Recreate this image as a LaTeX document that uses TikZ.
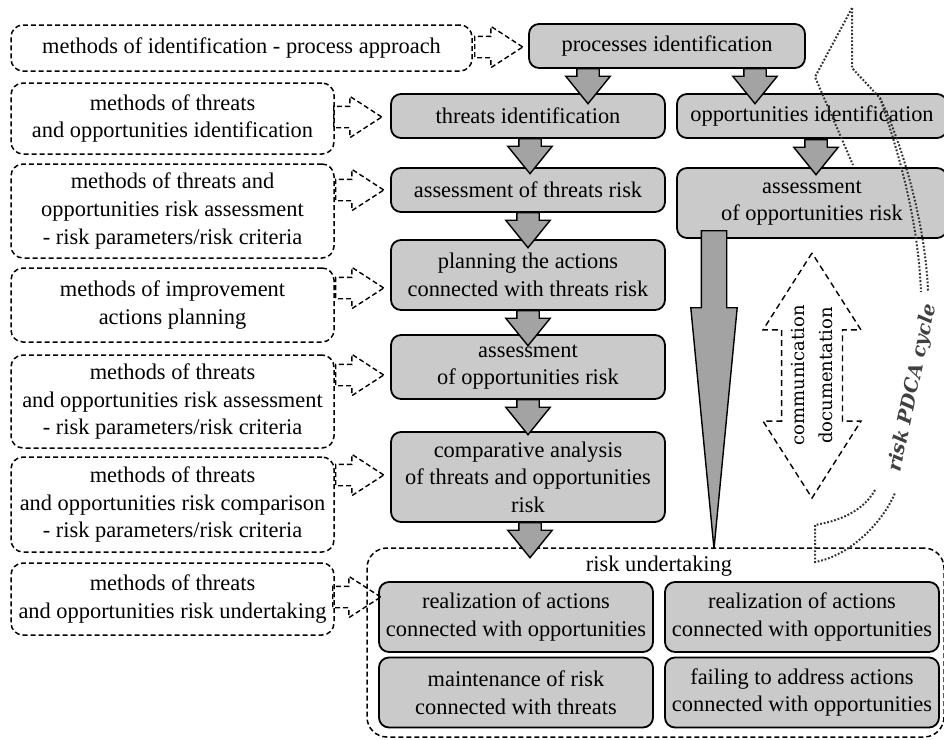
\documentclass[tikz,border=0pt]{standalone}
\usepackage{fontspec}
\setmainfont{Liberation Serif}
\newfontfamily\djserif{DejaVu Serif}
\usetikzlibrary{shapes.arrows}
\definecolor{boxgray}{RGB}{202,202,202}
\definecolor{arrgray}{RGB}{163,163,163}
\tikzstyle{stage} = [draw, line width=0.9pt, fill=boxgray, rounded corners=5pt, align=center, inner sep=2pt, minimum width=137pt, font=\fontsize{11.2}{13.8}\selectfont]
\tikzstyle{method} = [draw, line width=0.75pt, dash pattern=on 2.5pt off 1.5pt, rounded corners=6pt, align=center, inner sep=2pt, minimum width=161.5pt, font=\fontsize{11.2}{13.8}\selectfont]
\tikzstyle{flow} = [single arrow, draw, line width=0.7pt, fill=arrgray, inner xsep=0pt, inner ysep=5.25pt, minimum height=17.5pt, minimum width=21.5pt, single arrow head extend=5.5pt, single arrow tip angle=78, rotate=-90, anchor=tail]
\tikzstyle{link} = [single arrow, draw, line width=0.7pt, dash pattern=on 2.5pt off 1.5pt, inner xsep=0pt, inner ysep=5pt, minimum height=24pt, minimum width=20pt, single arrow head extend=5pt, single arrow tip angle=66, anchor=tip]
\tikzstyle{pdca} = [line width=1pt, dash pattern=on 0.9pt off 0.9pt, black!80]

\begin{document}
\begin{tikzpicture}[x=0.5pt,y=-0.5pt]
\useasboundingbox (0,0) rectangle (944,740);
\node[method, minimum width=230.5pt, minimum height=23pt] (m1) at (241.5,48) {methods of identification - process approach};
\node[method, minimum height=35.5pt] (m2) at (172.5,118.5) {methods of threats\\and opportunities identification};
\node[method, minimum height=47pt] (m3) at (172.5,211) {methods of threats and\\opportunities risk assessment\\- risk parameters/risk criteria};
\node[method, minimum height=37pt] (m4) at (172.5,305) {methods of improvement\\actions planning};
\node[method, minimum height=46.5pt] (m5) at (172.5,401.5) {methods of threats\\and opportunities risk assessment\\- risk parameters/risk criteria};
\node[method, minimum height=47.5pt] (m6) at (172.5,504.5) {methods of threats\\and opportunities risk comparison\\- risk parameters/risk criteria};
\node[method, minimum height=36pt] (m7) at (172.5,599) {methods of threats\\and opportunities risk undertaking};

\node[stage, minimum width=138pt, minimum height=22pt] (proc) at (667,46) {processes identification};
\node[stage, minimum height=22pt] (thrid) at (528,116) {threats identification};
\node[stage, minimum width=135pt, minimum height=22pt] (oppid) at (812,116) {opportunities identification};
\node[stage, minimum height=22pt] (thras) at (528,190) {assessment of threats risk};
\node[stage, minimum width=135pt, minimum height=35pt] (oppas) at (812,203) {assessment\\of opportunities risk};
\node[stage, minimum height=35pt] (plan) at (528,275) {planning the actions\\connected with threats risk};
\node[stage, minimum height=32pt] (midas) at (528,367) {assessment\\of opportunities risk};
\node[stage, minimum height=45pt] (comp) at (528,477) {comparative analysis\\of threats and opportunities\\risk};

\node[draw, line width=0.75pt, dash pattern=on 2.5pt off 1.5pt, rounded corners=10pt, minimum width=288.5pt, minimum height=94.5pt] (ru) at (655.5,642.5) {};
\node[font=\fontsize{11.2}{13.8}\selectfont] (rulbl) at (659,566) {risk undertaking};
\node[stage, minimum height=35pt] (ru1) at (516,617) {realization of actions\\connected with opportunities};
\node[stage, minimum height=35pt] (ru2) at (802,617) {realization of actions\\connected with opportunities};
\node[stage, minimum height=35pt] (ru3) at (516,692.5) {maintenance of risk\\connected with threats};
\node[stage, minimum height=35pt] (ru4) at (802,692.5) {failing to address actions\\connected with opportunities};

\node[flow] (f1) at (588,68) {};
\node[flow] (f2) at (755,68) {};
\node[flow] (f3) at (530,138) {};
\node[flow] (f4) at (816,139) {};
\node[flow] (f5) at (528,212) {};
\node[flow] (f6) at (528,310) {};
\node[flow] (f7) at (528,399) {};
\node[flow] (f8) at (530,522) {};
\node[single arrow, draw, line width=0.7pt, fill=arrgray, inner xsep=0pt, inner ysep=6pt, minimum height=159pt, minimum width=22.5pt, single arrow head extend=5.25pt, single arrow tip angle=11, rotate=-90, anchor=tail] (fbig) at (714,230) {};

\node[link] (l1) at (524,47) {};
\node[link] (l2) at (383,117) {};
\node[link] (l3) at (385,190) {};
\node[link] (l4) at (385,288) {};
\node[link] (l5) at (385,375) {};
\node[link] (l6) at (385,475) {};
\node[link] (l7) at (382,597) {};

\node[double arrow, draw, line width=0.7pt, dash pattern=on 3pt off 2pt, inner xsep=1pt, inner ysep=4.75pt, minimum height=122.5pt, minimum width=46pt, double arrow head extend=9.25pt, double arrow tip angle=65, rotate=90, align=center, font=\djserif\fontsize{9}{13.5}\selectfont] (talk) at (812,375.5) {communication\\documentation};

\draw[pdca] (852,8) -- (815,77) -- (853,165);
\draw[pdca] (852,8) -- (852,68) -- (880,98) .. controls (905,150) and (926,230) .. (928,292);
\draw[pdca] (880,98) .. controls (896,145) and (918,215) .. (921,292);
\draw[pdca] (875,490) .. controls (865,508) and (845,520) .. (815,525) -- (815,562) .. controls (850,556) and (883,522) .. (895,493);
\node[rotate=78, text=black!75, font=\djserif\bfseries\itshape\fontsize{9.6}{12}\selectfont] (cycle) at (913,388) {risk PDCA cycle};
\end{tikzpicture}
\end{document}
